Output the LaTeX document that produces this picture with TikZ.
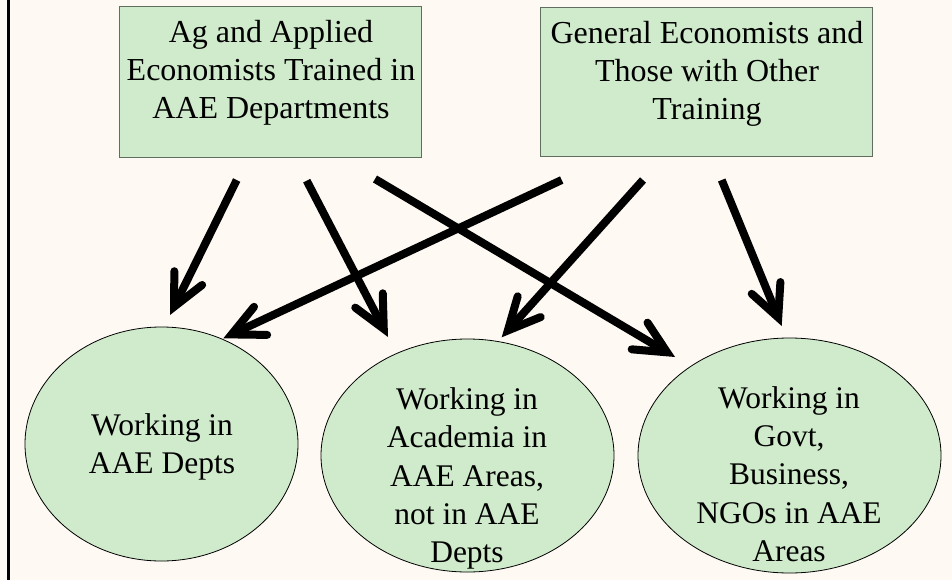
\documentclass[tikz,border=0pt]{standalone}
\usepackage{fontspec}
\setmainfont{Liberation Serif}
\usetikzlibrary{arrows.meta,shapes.geometric}
\definecolor{bgcream}{RGB}{254,249,243}
\definecolor{boxgreen}{RGB}{208,235,203}
\definecolor{boxline}{RGB}{95,110,95}
\begin{document}
\begin{tikzpicture}[x=1pt,y=-1pt,
  txt/.style={font=\fontsize{32}{38}\selectfont, align=center, inner sep=0pt},
  etxt/.style={font=\fontsize{31.5}{38.3}\selectfont, align=center, inner sep=0pt},
  srcbox/.style={draw=boxline, line width=0.8pt, fill=boxgreen, rectangle, inner sep=0pt},
  dest/.style={draw=black, line width=0.8pt, fill=boxgreen, ellipse, inner sep=0pt},
  flow/.style={line width=8pt, -{Straight Barb[length=32pt,width=31pt,line cap=round,line join=miter]}}]
\path[use as bounding box, fill=bgcream] (0,0) rectangle (952,580);
\draw[line width=2.5pt] (8.7,0) -- (8.7,580);

% source boxes
\node[srcbox, minimum width=302pt, minimum height=150.5pt] (b1) at (270,81.75) {};
\node[txt] (b1t) at (271,73) {Ag and Applied\\Economists Trained in\\AAE Departments};
\node[srcbox, minimum width=332pt, minimum height=149pt] (b2) at (706,81.5) {};
\node[txt] (b2t) at (707,73.5) {General Economists and\\Those with Other\\Training};

% destination ellipses
\node[dest, minimum width=273pt, minimum height=234pt] (e1) at (161.5,444) {};
\node[etxt] (e1t) at (162,447) {Working in\\AAE Depts};
\node[dest, minimum width=293pt, minimum height=233pt] (e2) at (467.5,455.5) {};
\node[etxt] (e2t) at (467,478.5) {Working in\\Academia in\\AAE Areas,\\not in AAE\\Depts};
\node[dest, minimum width=303pt, minimum height=235pt] (e3) at (789.5,455.5) {};
\node[etxt] (e3t) at (789,474) {Working in\\Govt,\\Business,\\NGOs in AAE\\Areas};

% arrow ends
\coordinate (s1) at (236.7,180);  \coordinate (t1) at (170,315);
\coordinate (s2) at (306.7,180.7); \coordinate (t2) at (388,337);
\coordinate (s3) at (375,179);    \coordinate (t3) at (675,357);
\coordinate (s4) at (561.7,180);  \coordinate (t4) at (223.3,338.3);
\coordinate (s5) at (643,180);    \coordinate (t5) at (501.7,337.3);
\coordinate (s6) at (721.7,180);  \coordinate (t6) at (781.7,326);

\draw[flow] (s1) -- (t1);
\draw[flow] (s2) -- (t2);
\draw[flow] (s3) -- (t3);
\draw[flow] (s4) -- (t4);
\draw[flow] (s5) -- (t5);
\draw[flow] (s6) -- (t6);
\end{tikzpicture}
\end{document}
